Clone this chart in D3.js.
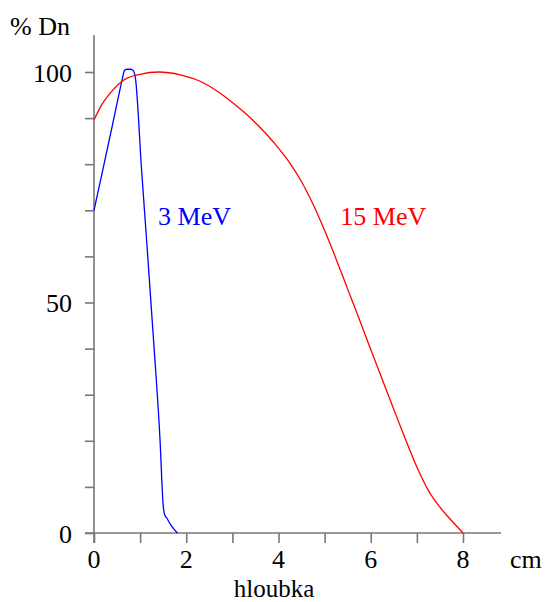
<!DOCTYPE html>
<html><head><meta charset="utf-8">
<script src="https://cdn.jsdelivr.net/npm/d3@7"></script>
<style>body{margin:0;background:#fff}svg{display:block}text{font-family:"Liberation Serif","Times New Roman",serif}</style>
</head><body>
<svg id="c" width="545" height="602"></svg>
<script>
const xTicks = [0,1,2,3,4,5,6,7,8];
const xTickLabels = [0,2,4,6,8];
const yTicks = [0,10,20,30,40,50,60,70,80,90,100];
const yTickLabels = [0,50,100];

const depth3 = [0,0.2,0.4,0.62,0.65,0.68,0.72,0.8,0.85,0.88,0.9,1.03,1.14,1.29,1.43,1.5,1.53,1.58,1.65,1.72,1.81];
const dose3  = [70,79.2,88.5,98.8,100.1,100.5,100.6,100.6,100.3,99.6,98.5,79,63.6,42,20.5,6,4,3.2,2,1,0];

const depth15 = [0,0.15,0.35,0.64,1.0,1.4,1.87,2.3,2.65,3.0,3.25,3.5,3.75,4.0,4.25,4.5,4.75,5.0,5.25,5.5,5.75,6.0,6.25,6.5,6.75,7.0,7.25,7.5,7.75,8.0];
const dose15  = [89.6,92.6,95.4,98.2,99.5,100,99.4,98.0,96.0,93.4,91.3,89.0,86.4,83.5,80.2,76.2,71.3,65.6,59.4,52.9,46.4,39.8,33.3,26.8,20.4,14.3,9.2,5.6,2.7,0];

const seriesNames = ["3 MeV","15 MeV"];
const seriesLabelPos = [[1.39,66.8],[5.34,66.8]];

const svg = d3.select("#c");
const x = d3.scaleLinear().domain([0,8]).range([94,463]);
const y = d3.scaleLinear().domain([0,100]).range([533,72]);
const axisCol = "#777";

// x axis
const gx = svg.append("g").attr("transform","translate(0,533)")
  .call(d3.axisBottom(x).tickValues(xTicks).tickSize(10).tickFormat(""));
gx.select(".domain").remove();
gx.selectAll("line").attr("stroke",axisCol).attr("stroke-width",1.6);
svg.append("line").attr("x1",85).attr("x2",501).attr("y1",533).attr("y2",533)
  .attr("stroke",axisCol).attr("stroke-width",1.6);

// y axis
const gy = svg.append("g").attr("transform","translate(94,0)")
  .call(d3.axisLeft(y).tickValues(yTicks).tickSize(9).tickFormat(""));
gy.select(".domain").remove();
gy.selectAll("line").attr("stroke",axisCol).attr("stroke-width",1.6);
svg.append("line").attr("x1",94).attr("x2",94).attr("y1",35).attr("y2",543)
  .attr("stroke",axisCol).attr("stroke-width",1.6);

const fs = 26;
svg.selectAll(".xl").data(xTickLabels).enter().append("text")
  .attr("x",d=>x(d)).attr("y",568).attr("text-anchor","middle")
  .attr("font-size",fs).attr("fill","#000").text(d=>d);
svg.selectAll(".yl").data(yTickLabels).enter().append("text")
  .attr("x",72).attr("y",d=>y(d)+9.5).attr("text-anchor","end")
  .attr("font-size",fs).attr("fill","#000").text(d=>d);

svg.append("text").attr("x",10).attr("y",35).attr("font-size",fs).text("% Dn");
svg.append("text").attr("x",510).attr("y",568).attr("font-size",fs).text("cm");
svg.append("text").attr("x",274).attr("y",596.5).attr("text-anchor","middle").attr("font-size",25).text("hloubka");

const colors = ["#0000ff","#ff0000"];
const data = [depth3.map((d,i)=>[d,dose3[i]]), depth15.map((d,i)=>[d,dose15[i]])];
data.forEach((s,i)=>{
  const line = d3.line().x(d=>x(d[0])).y(d=>y(d[1])).curve(d3.curveMonotoneX);
  svg.append("path").datum(s).attr("d",line).attr("fill","none")
    .attr("stroke",colors[i]).attr("stroke-width",1.3);
  svg.append("text").attr("x",x(seriesLabelPos[i][0])).attr("y",y(seriesLabelPos[i][1]))
    .attr("font-size",fs).attr("fill",colors[i]).text(seriesNames[i]);
});
</script>
</body></html>
